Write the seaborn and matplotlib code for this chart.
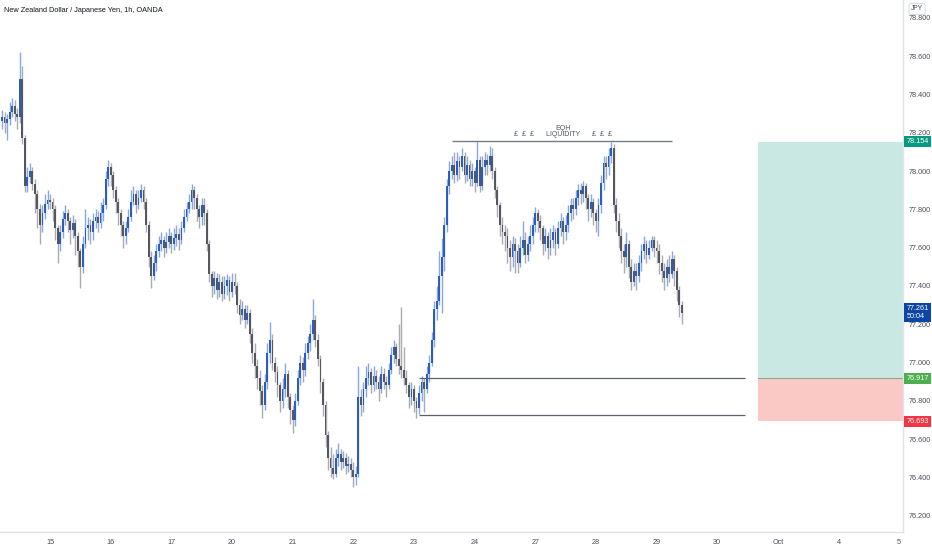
import matplotlib
matplotlib.use("Agg")
import matplotlib.pyplot as plt
import matplotlib.transforms as mtransforms
import numpy as np
import pandas as pd
import seaborn as sns

# NZDJPY 1h candles, hour index counted from Sep 15 00:00 (weekends skipped)
first_hour = -19
first_open = 78.26
closes = [
    78.28, 78.25, 78.27, 78.31, 78.34, 78.30, 78.28, 78.48, 78.17, 77.92,
    77.97, 78.00, 77.93, 77.88, 77.80, 77.72, 77.78, 77.83, 77.85, 77.84,
    77.80, 77.70, 77.62, 77.68, 77.75, 77.78, 77.74, 77.69, 77.73, 77.66,
    77.58, 77.50, 77.62, 77.70, 77.72, 77.68, 77.74, 77.76, 77.73, 77.78,
    77.82, 77.96, 78.02, 77.98, 77.90, 77.84, 77.78, 77.72, 77.66, 77.70,
    77.76, 77.84, 77.88, 77.82, 77.86, 77.90, 77.84, 77.72, 77.55, 77.45,
    77.52, 77.58, 77.62, 77.64, 77.60, 77.63, 77.66, 77.62, 77.65, 77.67,
    77.64, 77.70, 77.76, 77.80, 77.84, 77.90, 77.86, 77.80, 77.76, 77.82,
    77.78, 77.62, 77.46, 77.40, 77.44, 77.38, 77.42, 77.36, 77.40, 77.43,
    77.37, 77.42, 77.40, 77.30, 77.25, 77.28, 77.22, 77.26, 77.15, 77.05,
    76.98, 76.92, 76.85, 76.78, 76.90, 77.05, 77.12, 77.00, 76.95, 76.88,
    76.80, 76.86, 76.94, 76.82, 76.75, 76.70, 76.80, 76.92, 77.00, 76.96,
    77.05, 77.10, 77.15, 77.22, 77.12, 77.02, 76.90, 76.78, 76.62, 76.50,
    76.45, 76.42, 76.50, 76.52, 76.48, 76.50, 76.46, 76.47, 76.44, 76.40,
    76.42, 76.82, 76.78, 76.86, 76.92, 76.95, 76.88, 76.93, 76.90, 76.86,
    76.94, 76.90, 76.88, 76.96, 77.04, 77.08, 77.02, 76.98, 76.96, 76.92,
    76.88, 76.82, 76.86, 76.80, 76.76, 76.84, 76.90, 76.86, 76.94, 77.00,
    77.12, 77.28, 77.32, 77.45, 77.55, 77.72, 77.92, 78.00, 78.03, 77.98,
    78.05, 78.02, 78.08, 77.98, 78.03, 77.96, 78.00, 77.94, 78.06, 77.92,
    78.02, 78.06, 78.03, 78.08, 78.00, 77.90, 77.82, 77.72, 77.68, 77.66,
    77.60, 77.55, 77.62, 77.58, 77.52, 77.60, 77.64, 77.56, 77.62, 77.66,
    77.72, 77.78, 77.74, 77.70, 77.62, 77.66, 77.60, 77.64, 77.68, 77.62,
    77.70, 77.74, 77.68, 77.72, 77.78, 77.82, 77.80, 77.86, 77.90, 77.88,
    77.92, 77.86, 77.80, 77.84, 77.78, 77.74, 77.82, 77.94, 78.04, 78.02,
    78.08, 78.12, 77.82, 77.74, 77.66, 77.58, 77.55, 77.62, 77.50, 77.42,
    77.48, 77.45, 77.52, 77.58, 77.62, 77.56, 77.60, 77.64, 77.60, 77.58,
    77.52, 77.48, 77.44, 77.50, 77.46, 77.54, 77.48, 77.38, 77.30, 77.261,
]
highs = [
    78.32, 78.31, 78.30, 78.36, 78.38, 78.37, 78.33, 78.62, 78.55, 78.19,
    78.02, 78.04, 78.02, 77.96, 77.90, 77.83, 77.82, 77.88, 77.90, 77.88,
    77.86, 77.82, 77.72, 77.72, 77.79, 77.82, 77.80, 77.76, 77.77, 77.75,
    77.68, 77.60, 77.66, 77.80, 77.76, 77.75, 77.78, 77.80, 77.79, 77.84,
    77.86, 78.00, 78.06, 78.04, 78.00, 77.92, 77.86, 77.80, 77.74, 77.74,
    77.80, 77.90, 77.92, 77.90, 77.90, 77.93, 77.92, 77.86, 77.74, 77.58,
    77.56, 77.62, 77.66, 77.68, 77.66, 77.68, 77.70, 77.68, 77.70, 77.72,
    77.70, 77.74, 77.80, 77.84, 77.88, 77.93, 77.92, 77.88, 77.82, 77.86,
    77.86, 77.80, 77.64, 77.48, 77.48, 77.47, 77.46, 77.45, 77.45, 77.46,
    77.45, 77.47, 77.47, 77.42, 77.33, 77.32, 77.30, 77.30, 77.28, 77.18,
    77.10, 77.02, 76.96, 76.88, 76.94, 77.10, 77.21, 77.15, 77.03, 76.98,
    76.90, 76.92, 77.00, 76.96, 76.84, 76.78, 76.84, 76.96, 77.04, 77.03,
    77.10, 77.14, 77.20, 77.33, 77.25, 77.15, 77.04, 76.92, 76.80, 76.64,
    76.56, 76.52, 76.55, 76.58, 76.55, 76.54, 76.53, 76.51, 76.50, 76.48,
    76.46, 76.98, 76.86, 76.90, 76.98, 77.00, 76.97, 76.98, 76.96, 76.93,
    76.98, 76.97, 76.93, 77.00, 77.08, 77.12, 77.10, 77.20, 77.29, 77.08,
    76.96, 76.90, 76.90, 76.88, 76.82, 76.88, 76.93, 76.92, 76.98, 77.04,
    77.16, 77.32, 77.40, 77.58, 77.65, 77.76, 77.96, 78.05, 78.08, 78.10,
    78.10, 78.08, 78.12, 78.10, 78.08, 78.06, 78.04, 78.02, 78.157, 78.08,
    78.08, 78.10, 78.09, 78.13, 78.12, 78.02, 77.92, 77.84, 77.76, 77.72,
    77.70, 77.64, 77.66, 77.65, 77.62, 77.66, 77.74, 77.68, 77.66, 77.72,
    77.76, 77.81, 77.80, 77.77, 77.72, 77.70, 77.68, 77.70, 77.72, 77.70,
    77.74, 77.78, 77.76, 77.77, 77.82, 77.86, 77.86, 77.90, 77.93, 77.94,
    77.95, 77.94, 77.88, 77.88, 77.86, 77.80, 77.86, 77.98, 78.08, 78.08,
    78.12, 78.154, 78.14, 77.86, 77.78, 77.70, 77.62, 77.68, 77.64, 77.54,
    77.52, 77.52, 77.56, 77.62, 77.66, 77.64, 77.64, 77.66, 77.66, 77.64,
    77.62, 77.56, 77.52, 77.54, 77.56, 77.58, 77.56, 77.50, 77.40, 77.32,
]
lows = [
    78.22, 78.20, 78.16, 78.24, 78.28, 78.26, 78.22, 78.25, 78.14, 77.89,
    77.89, 77.94, 77.90, 77.78, 77.70, 77.62, 77.68, 77.75, 77.80, 77.80,
    77.74, 77.64, 77.52, 77.58, 77.65, 77.72, 77.68, 77.62, 77.65, 77.56,
    77.50, 77.39, 77.47, 77.60, 77.64, 77.62, 77.64, 77.70, 77.68, 77.70,
    77.74, 77.80, 77.92, 77.92, 77.86, 77.78, 77.72, 77.66, 77.60, 77.62,
    77.68, 77.74, 77.82, 77.78, 77.80, 77.84, 77.80, 77.68, 77.50, 77.39,
    77.43, 77.48, 77.55, 77.58, 77.55, 77.57, 77.60, 77.57, 77.59, 77.61,
    77.59, 77.62, 77.68, 77.74, 77.78, 77.80, 77.80, 77.74, 77.70, 77.72,
    77.72, 77.58, 77.42, 77.34, 77.36, 77.33, 77.34, 77.32, 77.33, 77.35,
    77.32, 77.34, 77.36, 77.26, 77.20, 77.22, 77.18, 77.20, 77.10, 77.00,
    76.92, 76.86, 76.78, 76.71, 76.75, 76.86, 77.00, 76.96, 76.90, 76.82,
    76.74, 76.76, 76.82, 76.76, 76.68, 76.63, 76.67, 76.78, 76.88, 76.90,
    76.93, 77.02, 77.06, 77.12, 77.08, 76.98, 76.84, 76.72, 76.56, 76.44,
    76.40, 76.39, 76.40, 76.46, 76.44, 76.45, 76.42, 76.43, 76.40, 76.35,
    76.36, 76.40, 76.72, 76.74, 76.82, 76.88, 76.84, 76.85, 76.86, 76.80,
    76.84, 76.86, 76.82, 76.86, 76.94, 77.00, 76.98, 76.94, 76.92, 76.88,
    76.84, 76.76, 76.78, 76.74, 76.71, 76.73, 76.80, 76.74, 76.84, 76.90,
    76.98, 77.08, 77.22, 77.30, 77.26, 77.48, 77.68, 77.88, 77.96, 77.94,
    77.95, 77.96, 78.00, 77.94, 77.95, 77.92, 77.92, 77.89, 77.92, 77.89,
    77.90, 77.98, 77.98, 78.00, 77.96, 77.86, 77.76, 77.66, 77.62, 77.58,
    77.52, 77.48, 77.50, 77.47, 77.47, 77.50, 77.56, 77.52, 77.53, 77.58,
    77.62, 77.68, 77.68, 77.64, 77.56, 77.58, 77.54, 77.56, 77.60, 77.56,
    77.60, 77.66, 77.62, 77.64, 77.68, 77.74, 77.75, 77.77, 77.82, 77.83,
    77.84, 77.80, 77.74, 77.76, 77.72, 77.68, 77.66, 77.78, 77.90, 77.96,
    77.98, 78.04, 77.78, 77.68, 77.60, 77.52, 77.47, 77.50, 77.44, 77.38,
    77.40, 77.38, 77.42, 77.48, 77.54, 77.52, 77.54, 77.58, 77.55, 77.52,
    77.46, 77.42, 77.38, 77.40, 77.42, 77.44, 77.40, 77.32, 77.24, 77.20,
]

day_hours = [0, 24, 48, 72, 96, 120, 144, 168, 192, 216, 240, 264, 288, 312, 336]
day_labels = ["15", "16", "17", "20", "21", "22", "23", "24", "27", "28",
              "29", "30", "Oct", "4", "5"]
price_ticks = [76.2, 76.4, 76.6, 76.8, 77.0, 77.2, 77.4, 77.6, 77.8, 78.0,
               78.2, 78.4, 78.6, 78.8]

# long position levels
target_price = 78.154
entry_price = 76.917
stop_price = 76.693
last_price = 77.261
eqh_price = 78.157
zone_top = 76.917
zone_bottom = 76.726

df = pd.DataFrame({"close": closes, "high": highs, "low": lows})
df["hour"] = np.arange(first_hour, first_hour + len(df))
df["open"] = [first_open] + closes[:-1]
df["up"] = df["close"] >= df["open"]

sns.set_theme(style="white")
plt.rcParams["font.family"] = ["Liberation Sans", "DejaVu Sans"]

fig = plt.figure(figsize=(9.32, 5.5), dpi=100)
ax = fig.add_axes([0, 18 / 550, 903 / 932, 532 / 550])

up_body, up_wick = "#2a5cc4", "#86a8e4"
dn_body, dn_wick = "#55575f", "#a9abb0"

for is_up, body, wick in [(True, up_body, up_wick), (False, dn_body, dn_wick)]:
    d = df[df["up"] == is_up]
    ax.vlines(d["hour"], d["low"], d["high"], color=wick, lw=1.0, zorder=2)
    h = (d["close"] - d["open"]).abs().clip(lower=0.004)
    ax.bar(d["hour"], h, bottom=d[["open", "close"]].min(axis=1),
           width=0.72, color=body, linewidth=0, zorder=3)

# position box
ax.fill_between([280.1, 337.5], entry_price, target_price, color="#c9e8e3", lw=0, zorder=1)
ax.fill_between([280.1, 337.5], stop_price, entry_price, color="#fbc9c5", lw=0, zorder=1)
ax.plot([280.1, 337.5], [entry_price, entry_price], color="#8fa88a", lw=0.8, zorder=1)

# horizontal levels
ax.hlines(eqh_price, 159, 246, color="#787b86", lw=1.0, zorder=4)
ax.hlines([zone_top, zone_bottom], 146, 275, color="#5d606b", lw=0.9, zorder=4)
ax.text(202.8, 78.205, "EQH", ha="center", va="bottom", fontsize=5, color="#50535e")
ax.text(202.8, 78.172, "£  £  £      LIQUIDITY      £  £  £", ha="center",
        va="bottom", fontsize=5, color="#50535e")

ax.set_xlim(-19.8, 337.5)
ax.set_ylim(76.115, 78.893)

ax.yaxis.tick_right()
ax.set_yticks(price_ticks)
ax.set_yticklabels([f"{p:.3f}" for p in price_ticks])
ax.set_xticks(day_hours)
ax.set_xticklabels(day_labels)
ax.tick_params(axis="both", length=0, labelsize=5.2, colors="#4a4d57", pad=5)
ax.tick_params(axis="y", pad=4)
for side in ["top", "left"]:
    ax.spines[side].set_visible(False)
for side in ["right", "bottom"]:
    ax.spines[side].set_color("#e0e3eb")
    ax.spines[side].set_linewidth(1)

# price tags on the axis
trans = mtransforms.blended_transform_factory(ax.transAxes, ax.transData)
tags = [(target_price, "78.154", "#089981"), (entry_price, "76.917", "#4caf50"),
        (stop_price, "76.693", "#f23645"), (last_price, "77.261\n50:04", "#0d47a1")]
for price, label, col in tags:
    ax.text(1.004, price, label, transform=trans, ha="left", va="center",
            fontsize=5.2, color="white", linespacing=1.15, zorder=6,
            bbox=dict(boxstyle="square,pad=0.3", fc=col, ec="none"))

fig.text(911 / 932, 1 - 9 / 550, "JPY", ha="left", va="center", fontsize=4.8,
         color="#4a4d57",
         bbox=dict(boxstyle="round,pad=0.3", fc="white", ec="#d1d4dc", lw=0.6))
fig.text(4 / 932, 1 - 11 / 550, "New Zealand Dollar / Japanese Yen, 1h, OANDA",
         ha="left", va="center", fontsize=5.3, color="#131722")

fig.savefig("out.png", dpi=100)
